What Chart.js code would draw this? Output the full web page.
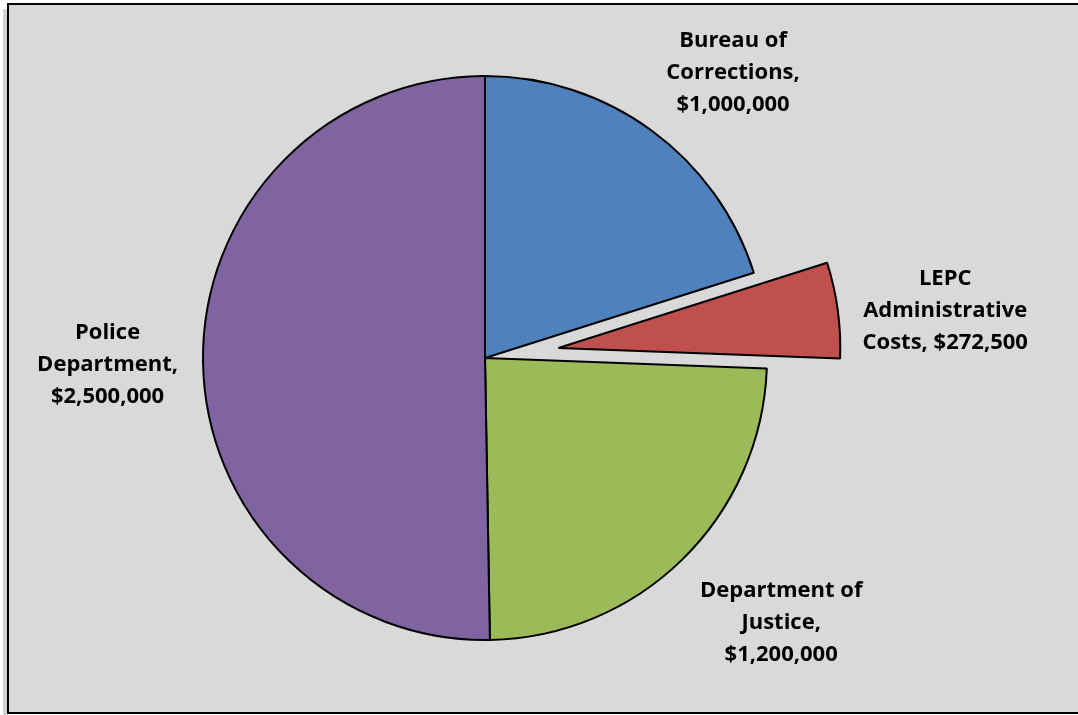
<!DOCTYPE html>
<html><head><meta charset="utf-8">
<script src="https://cdn.jsdelivr.net/npm/chart.js@4.4.0/dist/chart.umd.min.js"></script>
<style>html,body{margin:0;padding:0;background:#fff;overflow:hidden}canvas{display:block}</style>
</head><body><canvas id="c" width="1078" height="715"></canvas>
<script>
const categories = ["Bureau of Corrections", "LEPC Administrative Costs", "Department of Justice", "Police Department"];
const amounts = [1000000, 272500, 1200000, 2500000];
const sliceColors = ["#4F81BD", "#C0504D", "#9BBB59", "#8064A2"];
const explodePx = [0, 74, 0, 0];

function fmt(v) { return '$' + v.toLocaleString('en-US'); }
function wrap(ctx, text, maxW) {
  const words = text.split(' ');
  const lines = [];
  let cur = '';
  words.forEach(w => {
    const t = cur ? cur + ' ' + w : w;
    if (cur && ctx.measureText(t).width > maxW) { lines.push(cur); cur = w; }
    else cur = t;
  });
  if (cur) lines.push(cur);
  return lines;
}

const framePlugin = {
  id: 'frame',
  beforeDraw(chart) {
    const ctx = chart.ctx;
    ctx.save();
    ctx.fillStyle = '#ffffff';
    ctx.fillRect(0, 0, chart.width, chart.height);
    ctx.fillStyle = 'rgba(0,0,0,0.18)';
    ctx.fillRect(3, 9, 4, chart.height);
    ctx.fillStyle = '#D9D9D9';
    ctx.fillRect(8, 4, chart.width, 709);
    ctx.strokeStyle = '#000';
    ctx.lineWidth = 2;
    ctx.strokeRect(8, 4, chart.width + 10, 709);
    ctx.restore();
  }
};

const explodePlugin = {
  id: 'explode',
  afterDatasetUpdate(chart, args) {
    const meta = chart.getDatasetMeta(args.index);
    meta.data.forEach((arc, i) => {
      const d = explodePx[i] || 0;
      if (!d) return;
      const mid = (arc.startAngle + arc.endAngle) / 2;
      arc.x += Math.cos(mid) * d;
      arc.y += Math.sin(mid) * d;
    });
  }
};

const labelPlugin = {
  id: 'sliceLabels',
  afterDatasetsDraw(chart) {
    const ctx = chart.ctx;
    const meta = chart.getDatasetMeta(0);
    ctx.save();
    ctx.font = 'bold 22px "Open Sans"';
    ctx.fillStyle = '#000';
    ctx.textAlign = 'center';
    ctx.textBaseline = 'middle';
    const lh = 32, gap = 25, maxW = 185, bias = 4;
    meta.data.forEach((arc, i) => {
      const mid = (arc.startAngle + arc.endAngle) / 2;
      const dx = Math.cos(mid), dy = Math.sin(mid);
      const R = arc.outerRadius + gap;
      const ax = arc.x + dx * R, ay = arc.y + dy * R;
      const lines = wrap(ctx, chart.data.labels[i] + ', ' + fmt(chart.data.datasets[0].data[i]), maxW);
      const w = Math.max(...lines.map(l => ctx.measureText(l).width));
      const h = lines.length * lh - 12;
      const sx = Math.abs(dx) < 0.3 ? 0 : Math.sign(dx);
      const sy = Math.abs(dy) < 0.3 ? 0 : Math.sign(dy);
      const cx = ax + sx * w / 2, cy = ay + sy * h / 2 + bias;
      lines.forEach((l, k) => ctx.fillText(l, cx, cy + (k - (lines.length - 1) / 2) * lh));
    });
    ctx.restore();
  }
};

new Chart(document.getElementById('c'), {
  type: 'pie',
  data: {
    labels: categories,
    datasets: [{
      data: amounts,
      backgroundColor: sliceColors,
      borderColor: '#000',
      borderWidth: 2,
      hoverOffset: 0
    }]
  },
  options: {
    responsive: false,
    animation: false,
    radius: 282,
    layout: { padding: { left: 0, right: 108, top: 1, bottom: 0 } },
    plugins: { legend: { display: false }, title: { display: false }, tooltip: { enabled: false } },
    events: []
  },
  plugins: [framePlugin, explodePlugin, labelPlugin]
});
</script>
</body></html>
